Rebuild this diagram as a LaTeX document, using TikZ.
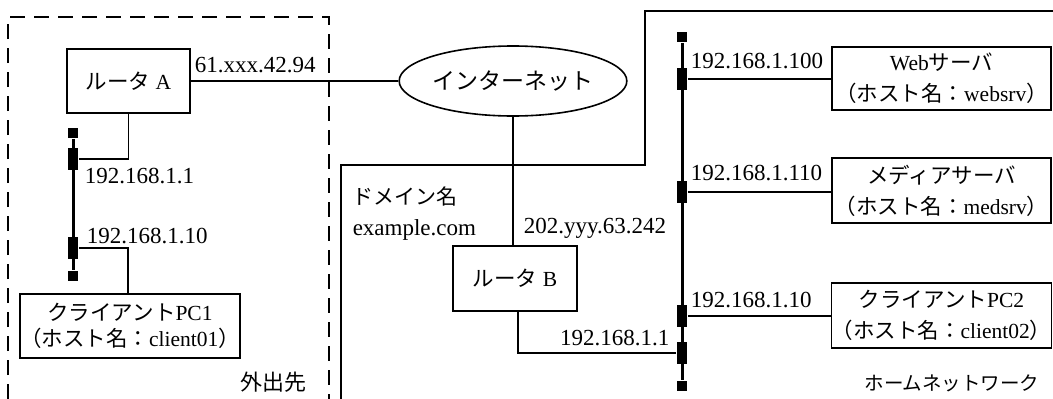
\documentclass[tikz,border=0pt]{standalone}
\usepackage{fontspec}
\setmainfont{Liberation Serif}
\newfontfamily\jp{Noto Sans CJK JP}
\usetikzlibrary{shapes.geometric}
\begin{document}
\begin{tikzpicture}[x=1pt,y=-1pt,
  line width=1.5pt,
  lbl/.style={inner sep=0pt, font=\fontsize{23}{28}\selectfont},
  box/.style={draw, line width=1.6pt, inner sep=0pt, align=center, font=\fontsize{21.5}{31}\selectfont},
  tap/.style={fill=black, draw=none, minimum width=10pt, minimum height=22pt, inner sep=0pt},
  term/.style={fill=black, draw=none, minimum width=10pt, minimum height=10pt, inner sep=0pt},
  bus/.style={line width=3pt},
  dashbox/.style={line width=1.5pt, dash pattern=on 15pt off 9pt}]
\useasboundingbox[fill=white] (0,0) rectangle (1053,399);

% boundaries
\draw[dashbox] (8,399) -- (8,17) -- (329,17) -- (329,399);
\draw (341,399) -- (341,165) -- (645,165) -- (645,11) -- (1053,11);

% main nodes
\node[box, minimum width=123pt, minimum height=64pt] (ra) at (128.5,81) {{\jp ルータ} A};
\node[draw, ellipse, line width=1.6pt, minimum width=220pt, minimum height=70pt, inner sep=0pt,
      font=\fontsize{23}{28}\selectfont\jp] (inet) at (513,81) {インターネット};
\node[box, minimum width=124pt, minimum height=65pt] (rb) at (515,278.5) {{\jp ルータ} B};
\node[box, minimum width=218pt, minimum height=64pt, font=\fontsize{21.5}{26}\selectfont] (pc1) at (130,326)
  {{\jp クライアント}PC1\\{\jp （ホスト名：}client01{\jp ）}};
\node[box, minimum width=219pt, minimum height=63pt] (web) at (941.5,78.5)
  {Web{\jp サーバ}\\{\jp （ホスト名：}websrv{\jp ）}};
\node[box, minimum width=219pt, minimum height=65pt] (med) at (941.5,190.5)
  {{\jp メディアサーバ}\\{\jp （ホスト名：}medsrv{\jp ）}};
\node[box, minimum width=219pt, minimum height=65pt] (pc2) at (941.5,315.5)
  {{\jp クライアント}PC2\\{\jp （ホスト名：}client02{\jp ）}};

% left bus
\node[term] (ta1) at (73,133) {};
\node[tap] (tp1) at (73,159) {};
\node[tap] (tp2) at (73,248) {};
\node[term] (ta2) at (73,276) {};
\draw[bus] (ta1) -- (ta2);

% right bus
\node[term] (tb1) at (682,37) {};
\node[tap] (tw) at (682,79) {};
\node[tap] (tm) at (682,192) {};
\node[tap] (tc) at (682,316) {};
\node[tap] (tr) at (682,353) {};
\node[term] (tb2) at (682,386) {};
\draw[bus] (tb1) -- (tb2);

% connectors
\draw (ra.east) -- (inet.west);
\draw (inet.south) -- (inet.south |- rb.north);
\draw (tp1.east) -| (ra.south);
\draw (tp2.east) -| ([xshift=-2pt]pc1.north);
\draw ([xshift=3pt]rb.south) |- (tr.west);
\draw (tw.east) -- (web.west |- tw);
\draw (tm.east) -- (med.west |- tm);
\draw (tc.east) -- (pc2.west |- tc);

% labels
\node[lbl, anchor=base west] (l1) at (194,72) {61.xxx.42.94};
\node[lbl, anchor=base west] (l2) at (84,183) {192.168.1.1};
\node[lbl, anchor=base west] (l3) at (86,243) {192.168.1.10};
\node[lbl, font=\fontsize{22}{26}\selectfont\jp] (l4) at (273,382) {外出先};
\node[lbl, anchor=base west, font=\fontsize{21}{26}\selectfont\jp] (l5) at (352,204) {ドメイン名};
\node[lbl, anchor=base west] (l6) at (352,235) {example.com};
\node[lbl, anchor=base west] (l7) at (523,233) {202.yyy.63.242};
\node[lbl, anchor=base east] (l8) at (670,345) {192.168.1.1};
\node[lbl, anchor=base west] (l9) at (690,68) {192.168.1.100};
\node[lbl, anchor=base west] (l10) at (690,180) {192.168.1.110};
\node[lbl, anchor=base west] (l11) at (690,307) {192.168.1.10};
\node[lbl, font=\fontsize{19.5}{24}\selectfont\jp] (l12) at (952,383) {ホームネットワーク};
\end{tikzpicture}
\end{document}
